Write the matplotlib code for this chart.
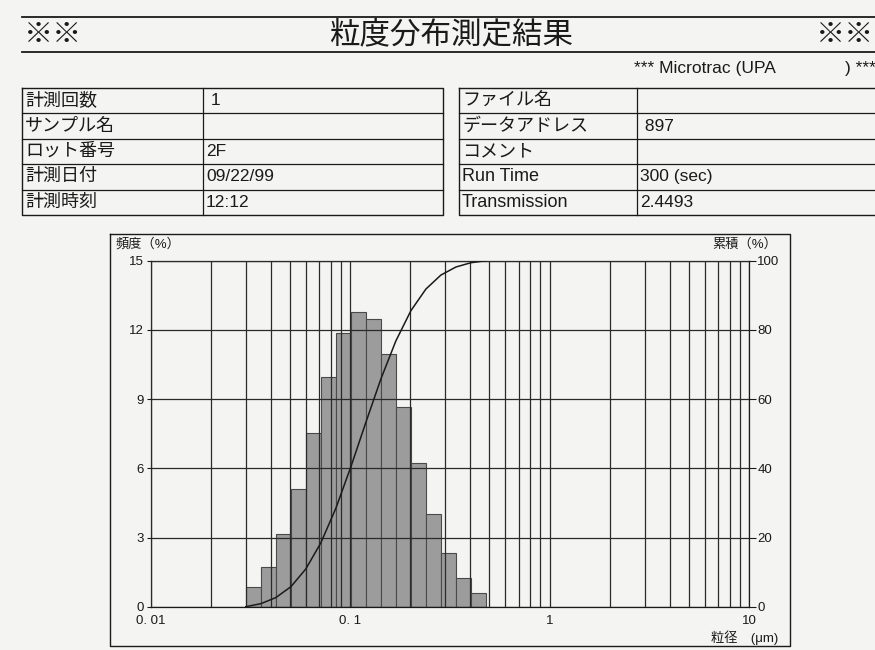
import numpy as np
import matplotlib
matplotlib.use("Agg")
import matplotlib.pyplot as plt

plt.rcParams['font.family'] = ['Liberation Sans', 'Noto Sans CJK JP', 'DejaVu Sans']

# channel edges (um) and frequency (%)
edges = np.array([0.0300, 0.0357, 0.0424, 0.0505, 0.0600, 0.0714, 0.0849, 0.1009,
                  0.1200, 0.1427, 0.1697, 0.2018, 0.2400, 0.2854, 0.3394, 0.4036, 0.4800])
freq = np.array([0.87, 1.73, 3.14, 5.10, 7.52, 9.94, 11.85, 12.79,
                 12.46, 10.94, 8.67, 6.22, 4.02, 2.31, 1.23, 0.58])

left_labels = ['計測回数', 'サンプル名', 'ロット番号', '計測日付', '計測時刻']
left_values = [' 1', '', '2F', '09/22/99', '12:12']
right_labels = ['ファイル名', 'データアドレス', 'コメント', 'Run Time', 'Transmission']
right_values = ['', ' 897', '', '300 (sec)', '2.4493']

freq_ticks = [0, 3, 6, 9, 12, 15]
cum_ticks = [0, 20, 40, 60, 80, 100]
x_ticks = [0.01, 0.1, 1, 10]
x_ticklabels = ['0. 01', '0. 1', '1', '10']

W, H = 875, 650
paper = '#f4f4f2'
ink = '#1a1a1a'

fig = plt.figure(figsize=(W / 100, H / 100), dpi=100, facecolor=paper)

# page overlay in pixel coordinates
bg = fig.add_axes([0, 0, 1, 1], zorder=0)
bg.set_xlim(0, W)
bg.set_ylim(H, 0)
bg.axis('off')

# header
bg.plot([22, W], [17, 17], color=ink, lw=1.3)
bg.plot([22, W], [52, 52], color=ink, lw=1.3)
bg.text(24, 35, '※※', fontsize=21, va='center', ha='left', color=ink)
bg.text(451, 35, '粒度分布測定結果', fontsize=22, va='center', ha='center', color=ink)
bg.text(816, 35, '※※', fontsize=21, va='center', ha='left', color=ink)
bg.text(634, 69, '*** Microtrac (UPA', fontsize=12.5, va='center', ha='left', color=ink)
bg.text(876, 69, ') ***', fontsize=12.5, va='center', ha='right', color=ink)

# info tables
top, bot = 88, 215
rh = (bot - top) / 5
for x0, xm, x1, labs, vals in [(22, 203, 443, left_labels, left_values),
                               (459, 637, W + 5, right_labels, right_values)]:
    bg.plot([x0, x1, x1, x0, x0], [top, top, bot, bot, top], color=ink, lw=1.0)
    bg.plot([xm, xm], [top, bot], color=ink, lw=0.9)
    for i in range(1, 5):
        bg.plot([x0, x1], [top + i * rh, top + i * rh], color=ink, lw=0.9)
    for i, (lab, val) in enumerate(zip(labs, vals)):
        yc = top + (i + 0.5) * rh
        bg.text(x0 + 3, yc, lab, fontsize=13, va='center', ha='left', color=ink)
        bg.text(xm + 3, yc, val, fontsize=12.5, va='center', ha='left', color=ink)

# chart frame
bg.plot([110, 790, 790, 110, 110], [234, 234, 646, 646, 234], color=ink, lw=1.0)
bg.text(116, 244, '頻度（%）', fontsize=9.5, va='center', ha='left', color=ink)
bg.text(777, 244, '累積（%）', fontsize=9.5, va='center', ha='right', color=ink)
bg.text(778, 638, '粒径　(μm)', fontsize=9.5, va='center', ha='right', color=ink)

# histogram axes
ax = fig.add_axes([150.6 / W, 1 - 606.7 / H, (749 - 150.6) / W, (606.7 - 260.7) / H], zorder=2)
ax.set_facecolor('none')
ax.set_xscale('log')
ax.set_xlim(0.01, 10)
ax.set_ylim(0, 15)
ax.bar(edges[:-1], freq, width=np.diff(edges), align='edge',
       color='#9c9c9c', edgecolor='#4a4a4a', linewidth=0.8, zorder=2)
ax.grid(which='both', axis='x', color='#2a2a2a', lw=0.9, zorder=1)
ax.grid(which='major', axis='y', color='#2a2a2a', lw=0.9, zorder=1)
ax.set_axisbelow(False)
ax.set_yticks(freq_ticks)
ax.set_xticks(x_ticks)
ax.set_xticklabels(x_ticklabels)
ax.xaxis.set_minor_formatter(plt.NullFormatter())
ax.tick_params(axis='x', which='both', length=0, labelsize=9.5, pad=6, colors=ink)
ax.tick_params(axis='y', length=3, labelsize=9.5, pad=2, colors=ink)
for s in ax.spines.values():
    s.set_color(ink)
    s.set_linewidth(0.9)

# cumulative curve
ax2 = ax.twinx()
ax2.set_ylim(0, 100)
cum = np.concatenate([[0], np.cumsum(freq)])
cum = cum / cum[-1] * 100
ax2.plot(edges, cum, color=ink, lw=1.1, zorder=3)
ax2.set_yticks(cum_ticks)
ax2.tick_params(axis='y', length=5, labelsize=9.5, pad=1, colors=ink)
for s in ax2.spines.values():
    s.set_visible(False)

fig.savefig('out.png', dpi=100, facecolor=paper)
